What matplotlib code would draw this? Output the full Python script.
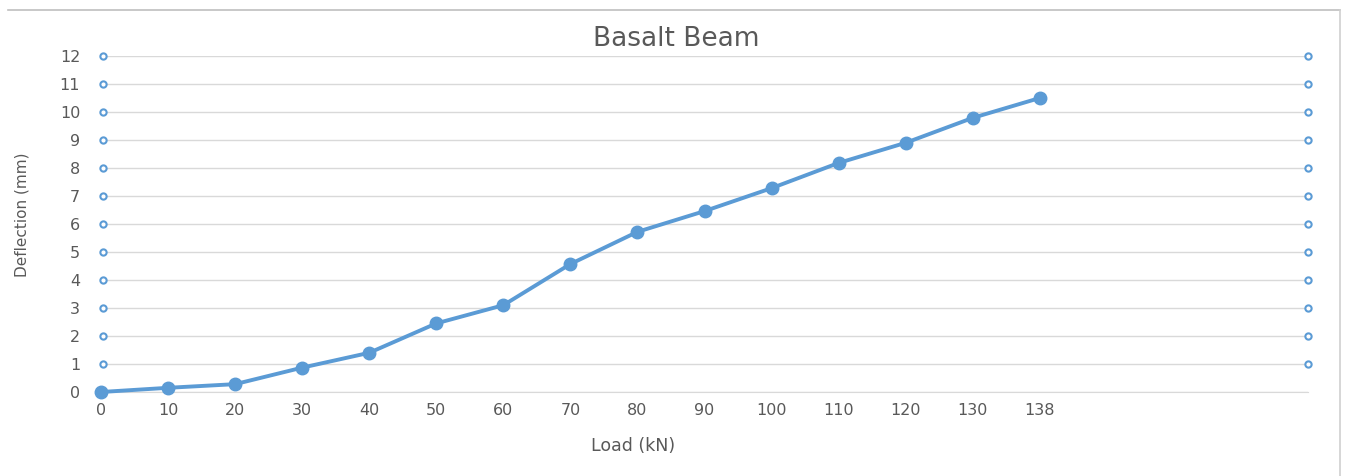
import matplotlib.pyplot as plt
from matplotlib.lines import Line2D

# data
loads = ['0', '10', '20', '30', '40', '50', '60', '70', '80', '90',
         '100', '110', '120', '130', '138']
deflection = [0.0, 0.15, 0.28, 0.87, 1.4, 2.45, 3.1, 4.57, 5.72, 6.46,
              7.28, 8.18, 8.9, 9.79, 10.5]
y_ticks = list(range(0, 13))
n_slots = 18  # category axis keeps empty slots to the right

blue = '#5b9bd5'
grey = '#595959'
font = 'DejaVu Sans'

W, H = 1348, 476
fig = plt.figure(figsize=(W / 100, H / 100), dpi=100)
ax = fig.add_axes([101 / W, 84 / H, 1207 / W, 336 / H])

x = list(range(len(loads)))
ax.plot(x, deflection, color=blue, lw=2.8, marker='o', ms=9,
        solid_capstyle='round', clip_on=False, zorder=3)

ax.set_xlim(0, n_slots)
ax.set_ylim(0, 12)
ax.set_xticks(x)
ax.set_xticklabels(loads, family=font, fontsize=11.5, color=grey)
ax.set_yticks(y_ticks)
ax.set_yticklabels([str(v) for v in y_ticks], family=font, fontsize=11.5, color=grey)
ax.tick_params(length=0)
ax.tick_params(axis='x', pad=8)
ax.tick_params(axis='y', pad=15)

ax.grid(axis='y', color='#d9d9d9', lw=1)
ax.set_axisbelow(True)
for s in ['top', 'right', 'left']:
    ax.spines[s].set_visible(False)
ax.spines['bottom'].set_color('#d9d9d9')

# small handles at gridline ends
for v in y_ticks[1:]:
    ax.plot([0.03, n_slots], [v, v], ls='none', marker='o', ms=4.5,
            mfc='white', mec=blue, mew=1.5, clip_on=False, zorder=4)

fig.text(676 / W, 1 - 39 / H, 'Basalt Beam', ha='center', va='center',
         family=font, fontsize=19, color=grey)
fig.text(633 / W, 1 - 446 / H, 'Load (kN)', ha='center', va='center',
         family=font, fontsize=12.5, color=grey)
fig.text(22 / W, 1 - 215 / H, 'Deflection (mm)', rotation=90, ha='center',
         va='center', family=['Liberation Sans Narrow', 'DejaVu Sans'],
         fontsize=11, color=grey)

# chart frame lines
fig.add_artist(Line2D([8 / W, 1340 / W], [1 - 10 / H, 1 - 10 / H],
                      color='#bfbfbf', lw=1.2))
fig.add_artist(Line2D([1340 / W, 1340 / W], [0, 1 - 10 / H],
                      color='#d0d0d0', lw=1.2))

fig.savefig('out.png', dpi=100)
